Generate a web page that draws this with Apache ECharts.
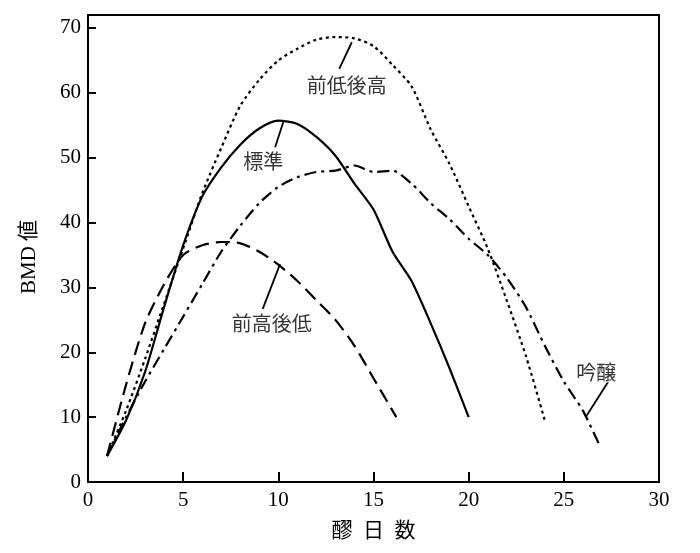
<!DOCTYPE html>
<html>
<head>
<meta charset="utf-8">
<script src="https://cdn.jsdelivr.net/npm/echarts@6/dist/echarts.min.js"></script>
<style>
html,body{margin:0;padding:0;background:#fff;}
#chart{width:700px;height:553px;}
</style>
</head>
<body>
<div id="chart"></div>
<script>
// 標準 (solid)
const hyojunX = [1, 2, 3, 4, 5, 6, 7, 8, 9, 10, 11, 12, 13, 14, 15, 16, 17, 18, 19, 20];
const hyojunY = [4, 9.5, 17, 27, 36.5, 44, 48.5, 52, 54.5, 55.7, 55.2, 53.2, 50.3, 46, 42, 35.5, 31, 24.5, 17.5, 10];
// 前低後高 (dotted)
const zenteiX = [1, 2, 3, 4, 5, 6, 7, 8, 9, 10, 11, 12, 13, 14, 15, 16, 17, 18, 19, 20, 21, 22, 23, 24];
const zenteiY = [4, 11, 19, 27.5, 36, 44.5, 51.5, 58, 62, 65, 66.8, 68.2, 68.6, 68.4, 67.2, 64.3, 61, 54.4, 49, 42.5, 36, 28, 19.5, 9.5];
// 前高後低 (dashed)
const zenkoX = [1, 2, 3, 4, 5, 6, 7, 8, 9, 10, 11, 12, 13, 14, 15, 16.2];
const zenkoY = [4, 15, 24.5, 30.5, 35, 36.5, 37, 36.8, 35.5, 33.5, 31, 28, 25, 21, 16, 10];
// 吟醸 (dash-dot)
const ginjoX = [1, 2, 3, 4, 5, 6, 7, 8, 9, 10, 11, 12, 13, 14, 15, 16, 17, 18, 19, 20, 21, 22, 23, 24, 25, 26, 26.9];
const ginjoY = [4, 10, 15.5, 20.5, 25.5, 30.5, 35.5, 39.5, 43, 45.5, 47, 47.8, 48, 48.8, 47.8, 48, 46, 43, 40.5, 37.5, 35, 31.5, 27, 21, 15.5, 11, 5.5];

// annotation labels (data coordinates)
const labelNames = ['前低後高', '標準', '前高後低', '吟醸'];
const labelX = [13.6, 9.21, 9.65, 26.7];
const labelY = [61.2, 49.4, 24.4, 16.9];
// leader lines: [x1, y1, x2, y2]
const leaderLines = [
  [13.86, 67.8, 13.2, 63.7],
  [10.26, 55.5, 9.83, 51.6],
  [10.09, 33.6, 9.18, 26.7],
  [27.34, 15.5, 26.17, 10.1]
];

const xTicks = [0, 5, 10, 15, 20, 25, 30];
const yTicks = [0, 10, 20, 30, 40, 50, 60, 70];

const zip = (xs, ys) => xs.map((x, i) => [x, ys[i]]);

const numFont = '"Liberation Serif", "DejaVu Serif", serif';
const cjkFont = '"Noto Sans CJK JP", "Noto Sans", sans-serif';

function lineSeries(name, xs, ys, dash) {
  return {
    name: name,
    type: 'line',
    data: zip(xs, ys),
    showSymbol: false,
    smooth: 0.25,
    lineStyle: { color: '#000', width: 2.2, type: dash },
    z: 3,
    silent: true
  };
}

const chart = echarts.init(document.getElementById('chart'), null, { renderer: 'canvas' });
chart.setOption({
  animation: false,
  backgroundColor: '#fff',
  grid: {
    left: 88, right: 41, top: 15, bottom: 71,
    show: true, borderColor: '#000', borderWidth: 2, backgroundColor: 'transparent'
  },
  xAxis: {
    type: 'value',
    min: xTicks[0], max: xTicks[xTicks.length - 1], interval: 5,
    name: '醪\u2002日\u2002数',
    nameLocation: 'middle',
    nameGap: 37,
    nameTextStyle: { fontFamily: cjkFont, fontSize: 21, color: '#000' },
    axisLine: { show: true, lineStyle: { color: '#000', width: 2 } },
    axisTick: { show: true, inside: true, length: 10, lineStyle: { color: '#000', width: 2 } },
    axisLabel: { color: '#000', fontFamily: numFont, fontSize: 21, margin: 8 },
    splitLine: { show: false }
  },
  yAxis: {
    type: 'value',
    min: yTicks[0], max: 72, interval: 10,
    name: 'BMD 値',
    nameLocation: 'middle',
    nameRotate: 90,
    nameGap: 48,
    nameTextStyle: { fontFamily: '"Liberation Serif", "Noto Sans CJK JP", serif', fontSize: 21, color: '#000', padding: [0, 17, 0, 0] },
    axisLine: { show: true, lineStyle: { color: '#000', width: 2 } },
    axisTick: { show: true, inside: true, length: 8, lineStyle: { color: '#000', width: 2 } },
    axisLabel: {
      color: '#000', fontFamily: numFont, fontSize: 21, margin: 7,
      showMaxLabel: false,
      formatter: v => (yTicks.indexOf(v) >= 0 ? String(v) : '')
    },
    splitLine: { show: false }
  },
  series: [
    lineSeries('標準', hyojunX, hyojunY, 'solid'),
    lineSeries('前低後高', zenteiX, zenteiY, [3, 3.5]),
    lineSeries('前高後低', zenkoX, zenkoY, [14, 7]),
    lineSeries('吟醸', ginjoX, ginjoY, [12, 5, 3, 5]),
    {
      type: 'lines',
      coordinateSystem: 'cartesian2d',
      polyline: false,
      silent: true,
      lineStyle: { color: '#000', width: 1.8, opacity: 1 },
      data: leaderLines.map(l => ({ coords: [[l[0], l[1]], [l[2], l[3]]] })),
      z: 4
    },
    {
      type: 'scatter',
      silent: true,
      symbolSize: 0,
      data: labelNames.map((n, i) => ({ value: [labelX[i], labelY[i]], name: n })),
      label: {
        show: true,
        position: 'inside',
        formatter: p => p.name,
        color: '#000',
        fontFamily: cjkFont,
        fontSize: 20,
        backgroundColor: '#fff',
        padding: [0, 1]
      },
      z: 5
    }
  ]
});
</script>
</body>
</html>
